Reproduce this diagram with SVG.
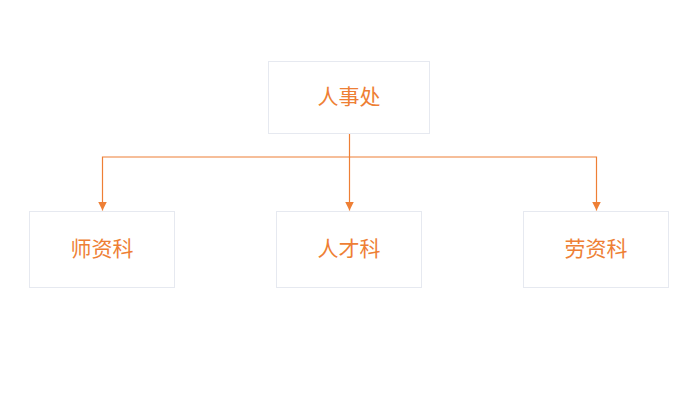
<svg xmlns="http://www.w3.org/2000/svg" width="695" height="411" viewBox="0 0 695 411">
<style>
.box{fill:#ffffff;stroke:#E6E9F0;stroke-width:1}
.lbl{font-family:"Noto Sans CJK SC","Noto Sans",sans-serif;font-size:21px;fill:#EE7F35;text-anchor:middle;dominant-baseline:central}
.edge{fill:none;stroke:#EE7F35;stroke-width:1.2}
</style>
<defs>
<marker id="arr" markerWidth="10" markerHeight="10" refX="9" refY="5" orient="auto" markerUnits="userSpaceOnUse">
<path d="M0,0.5 L9,5 L0,9.5 Z" fill="#EE7F35"/>
</marker>
</defs>
<rect width="695" height="411" fill="#ffffff"/>
<g id="connectors">
<path class="edge" d="M349.5,133.5 V157 H102.5 V210.5" marker-end="url(#arr)"/>
<path class="edge" d="M349.5,157 V210.5" marker-end="url(#arr)"/>
<path class="edge" d="M349.5,157 H596.5 V210.5" marker-end="url(#arr)"/>
</g>
<g id="node-renshichu">
<rect class="box" x="268.5" y="61.5" width="161" height="72"/>
<text class="lbl" x="349" y="94.5">人事处</text>
</g>
<g id="node-shizike">
<rect class="box" x="29.5" y="211.5" width="145" height="76"/>
<text class="lbl" x="102" y="246.5">师资科</text>
</g>
<g id="node-rencaike">
<rect class="box" x="276.5" y="211.5" width="145" height="76"/>
<text class="lbl" x="349" y="246.5">人才科</text>
</g>
<g id="node-laozike">
<rect class="box" x="523.5" y="211.5" width="145" height="76"/>
<text class="lbl" x="596" y="246.5">劳资科</text>
</g>
</svg>
